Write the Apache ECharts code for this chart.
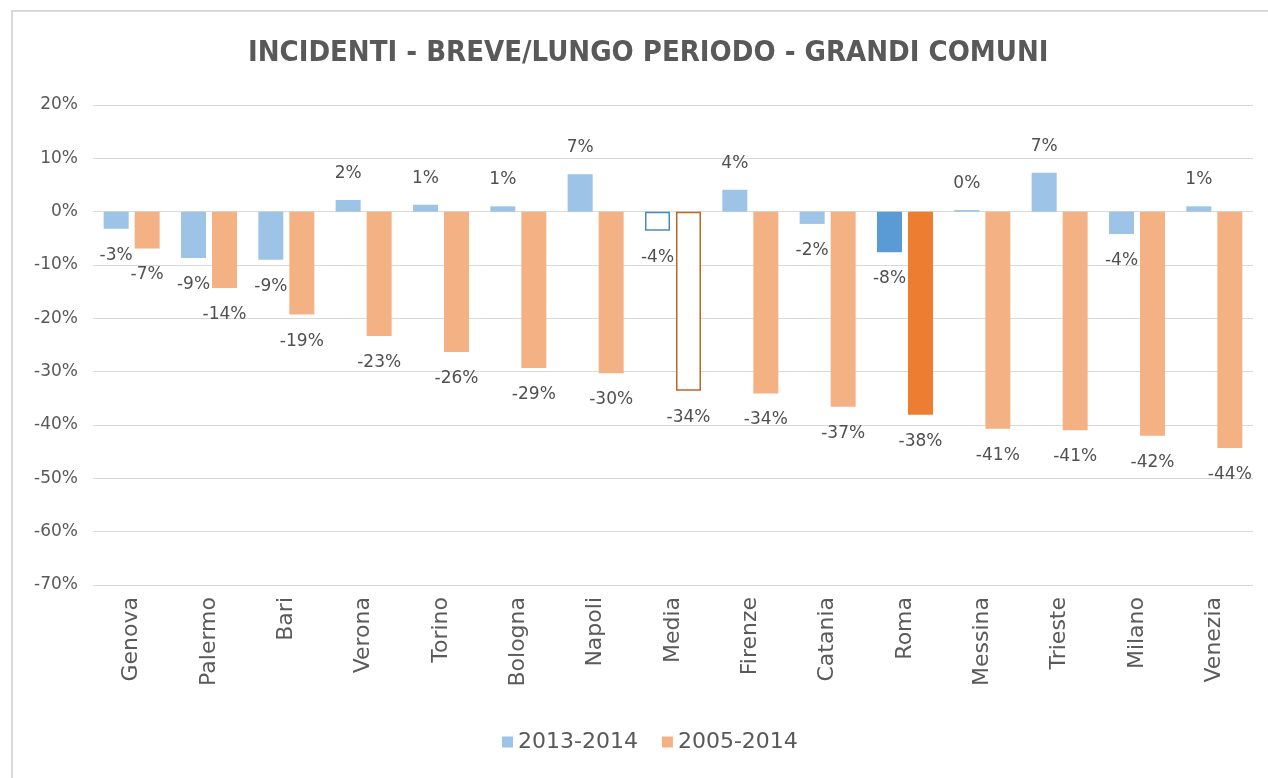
<!DOCTYPE html>
<html>
<head>
    <meta charset="utf-8">
    <title>Incidenti - grandi comuni</title>
    <script src="https://cdn.jsdelivr.net/npm/echarts@6/dist/echarts.min.js"></script>
</head>
<body style="margin: 0; padding: 0; background: #fff;">
<div id="main" style="width: 1268px; height: 778px;"></div>
<script type="text/javascript">
    // dati
    var comuni = ["Genova", "Palermo", "Bari", "Verona", "Torino", "Bologna", "Napoli", "Media",
        "Firenze", "Catania", "Roma", "Messina", "Trieste", "Milano", "Venezia"];
    var breve = [-3.2, -8.7, -9.0, 2.2, 1.3, 1.0, 7.0, -3.6, 4.1, -2.3, -7.6, 0.3, 7.3, -4.2, 1.0];
    var lungo = [-6.9, -14.3, -19.3, -23.3, -26.3, -29.3, -30.3, -33.6, -34.1, -36.6, -38.1, -40.7, -41.0, -42.0, -44.3];
    var yTicks = [20, 10, 0, -10, -20, -30, -40, -50, -60, -70];

    var idxMedia = comuni.indexOf("Media");
    var idxRoma = comuni.indexOf("Roma");

    function colora(valori, chiaro, scuro, bordo) {
        return valori.map(function (v, i) {
            if (i === idxMedia) {
                return {value: v, itemStyle: {color: '#ffffff', borderColor: bordo, borderWidth: 1.5}};
            }
            if (i === idxRoma) {
                return {value: v, itemStyle: {color: scuro}};
            }
            return {value: v, itemStyle: {color: chiaro}};
        });
    }

    var labelStyle = {
        show: true,
        position: 'outside',
        distance: 18,
        color: '#505050',
        fontSize: 17,
        fontFamily: 'DejaVu Sans',
        formatter: function (p) { return Math.round(p.value) + '%'; }
    };

    var myChart = echarts.init(document.getElementById('main'));
    var option = {
        animation: false,
        title: {
            text: 'INCIDENTI - BREVE/LUNGO PERIODO - GRANDI COMUNI',
            left: 243,
            top: 34,
            textStyle: {
                color: '#595959',
                fontSize: 29,
                fontWeight: 'bold',
                fontFamily: 'DejaVu Sans Condensed'
            }
        },
        legend: {
            data: ['2013-2014', '2005-2014'],
            bottom: 20,
            left: 497,
            icon: 'rect',
            itemWidth: 11,
            itemHeight: 11,
            itemGap: 24,
            textStyle: {color: '#595959', fontSize: 22, fontFamily: 'DejaVu Sans'}
        },
        grid: {left: 93, right: 15, top: 105, bottom: 193, containLabel: false},
        xAxis: {
            type: 'category',
            data: comuni,
            axisLine: {show: false, onZero: false},
            axisTick: {show: false},
            axisLabel: {
                rotate: 90,
                margin: 12,
                color: '#5a5a5a',
                fontSize: 22,
                fontFamily: 'DejaVu Sans'
            }
        },
        yAxis: {
            type: 'value',
            min: yTicks[yTicks.length - 1],
            max: yTicks[0],
            interval: 10,
            axisLine: {show: false},
            axisTick: {show: false},
            splitLine: {lineStyle: {color: '#d9d9d9', width: 1}},
            axisLabel: {
                margin: 15,
                color: '#595959',
                fontSize: 17,
                fontFamily: 'DejaVu Sans',
                formatter: '{value}%'
            }
        },
        graphic: [{
            type: 'rect',
            silent: true,
            shape: {x: 12, y: 11, width: 1300, height: 800},
            style: {fill: 'none', stroke: '#d9d9d9', lineWidth: 2}
        }],
        series: [{
            name: '2013-2014',
            type: 'bar',
            barWidth: 25,
            barGap: '24%',
            itemStyle: {color: '#9dc3e6'},
            label: labelStyle,
            data: colora(breve, '#9dc3e6', '#5b9bd5', '#4a89c8')
        }, {
            name: '2005-2014',
            type: 'bar',
            barWidth: 25,
            itemStyle: {color: '#f4b183'},
            label: labelStyle,
            data: colora(lungo, '#f4b183', '#ed7d31', '#c0652a')
        }]
    };
    myChart.setOption(option);
</script>
</body>
</html>
